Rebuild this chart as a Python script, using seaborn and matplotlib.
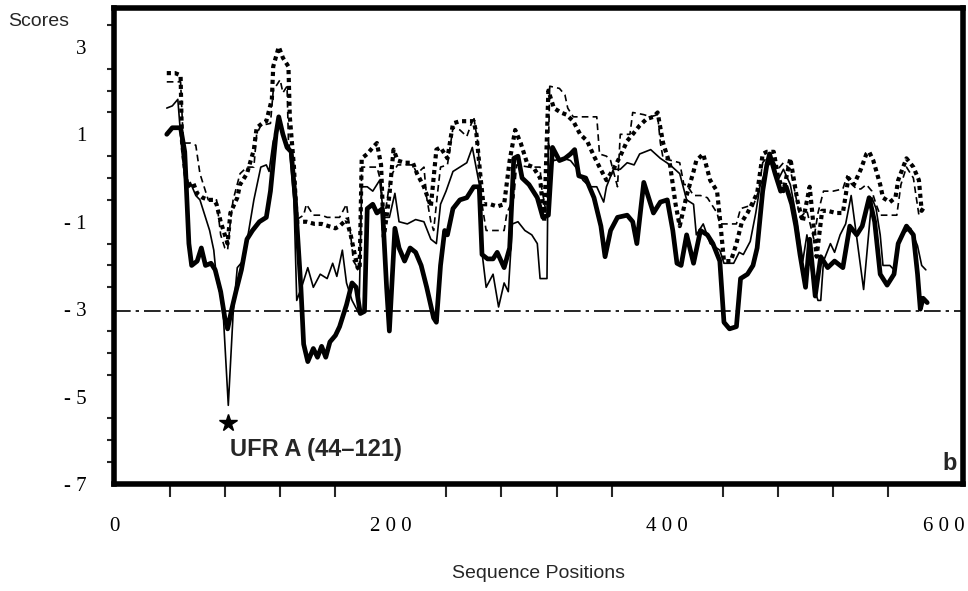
import matplotlib
matplotlib.use("Agg")
import matplotlib.pyplot as plt
import seaborn as sns
from matplotlib.ticker import MultipleLocator, FixedLocator, FixedFormatter

# thick solid profile
s1_pos = [38, 42, 48, 51, 54, 56, 60, 63, 66, 70, 73, 77, 80, 82, 85, 88, 92, 96, 100, 105,
          110, 113, 117, 119, 122, 125, 128, 131, 135, 137, 140, 144, 147, 150, 153, 156, 160,
          163, 168, 172, 175, 178, 181, 183, 187, 190, 194, 197, 199, 203, 206, 210, 214, 218,
          222, 226, 231, 233, 236, 239, 241, 245, 250, 255, 260, 264, 266, 270, 274, 277, 282,
          286, 289, 292, 295, 300, 306, 310, 314, 317, 322, 326, 330, 333, 336, 341, 347, 352,
          355, 359, 364, 371, 375, 378, 383, 387, 390, 395, 400, 404, 407, 410, 414, 419, 424,
          429, 433, 438, 441, 445, 450, 453, 458, 462, 465, 469, 472, 474, 478, 482, 486, 490,
          493, 496, 500, 503, 507, 511, 516, 521, 527, 532, 537, 541, 546, 550, 554, 559, 564,
          567, 573, 578, 581, 583, 585, 588]
s1_score = [1.0, 1.15, 1.15, 0.6, -1.5, -2.0, -1.9, -1.6, -2.0, -1.95, -2.1, -2.6, -3.2, -3.45,
            -3.0, -2.6, -2.1, -1.4, -1.2, -1.0, -0.9, -0.3, 1.0, 1.4, 1.0, 0.7, 0.6, -0.5, -2.5,
            -3.8, -4.2, -3.9, -4.1, -3.85, -4.1, -3.75, -3.6, -3.4, -2.9, -2.4, -2.5, -3.1, -3.05,
            -0.7, -0.6, -0.8, -0.7, -2.5, -3.5, -1.15, -1.6, -1.9, -1.6, -1.7, -2.0, -2.5, -3.2,
            -3.3, -2.0, -1.2, -1.3, -0.7, -0.5, -0.45, -0.2, -0.2, -1.75, -1.85, -1.85, -1.7,
            -2.05, -1.6, 0.45, 0.5, 0.0, -0.15, -0.45, -0.9, -0.85, 0.7, 0.4, 0.45, 0.55, 0.65,
            0.05, 0.0, -0.45, -1.1, -1.8, -1.2, -0.9, -0.85, -1.0, -1.5, -0.1, -0.5, -0.8, -0.55,
            -0.5, -1.2, -1.95, -2.0, -1.3, -1.95, -1.2, -1.3, -1.5, -1.9, -3.3, -3.45, -3.4, -2.3,
            -2.2, -2.0, -1.6, -0.3, 0.3, 0.55, 0.1, -0.3, -0.2, -0.6, -1.1, -1.75, -2.5, -1.4,
            -2.7, -1.8, -2.05, -1.9, -2.05, -1.1, -1.3, -1.1, -0.45, -1.0, -2.2, -2.45, -2.2,
            -1.5, -1.1, -1.3, -2.2, -3.0, -2.75, -2.85]

# thin solid profile
s2_pos = [38, 42, 46, 49, 52, 55, 59, 62, 65, 69, 72, 74, 77, 79, 82.5, 86, 89, 93, 96, 101,
          106, 110, 112, 115, 120, 124, 127, 130, 132, 136, 140, 144, 149, 154, 158, 161, 165,
          168, 172, 177, 179, 183, 187, 192, 195, 199, 203, 206, 212, 218, 224, 229, 233, 236,
          240, 245, 250, 255, 259, 262, 265, 266, 269, 274, 278, 282, 285, 288, 292, 297, 302,
          306, 308, 313, 314, 318, 325, 330, 335, 339, 344, 349, 354, 356, 361, 366, 371, 376,
          380, 388, 395, 402, 409, 414, 419, 421, 426, 431, 438, 441, 448, 452, 455, 460, 464,
          467, 472, 476, 480, 484, 489, 494, 498, 501, 506, 509, 511, 513, 518, 521, 525, 529,
          533, 538, 542, 548, 551, 554, 556, 561, 564, 569, 576, 581, 584, 587]
s2_score = [1.6, 1.65, 1.8, 0.6, -0.3, -0.1, -0.4, -0.5, -0.8, -1.2, -1.65, -2.3, -2.7, -3.2,
            -5.2, -3.1, -2.05, -1.9, -1.45, -0.5, 0.25, 0.3, 0.15, 0.85, 1.25, 0.85, 0.6, -0.5,
            -2.8, -2.45, -2.05, -2.5, -2.2, -2.3, -1.95, -2.25, -1.65, -2.4, -2.8, -3.1, -0.2,
            -0.2, -0.3, -0.05, -0.9, -0.9, -0.35, -1.0, -1.05, -0.95, -1.0, -1.4, -1.5, -0.6,
            -0.3, 0.15, 0.25, 0.35, 0.7, 0.2, -0.3, -1.7, -2.5, -2.2, -2.95, -2.4, -2.6, -1.05,
            -1.0, -1.2, -1.3, -1.5, -2.3, -2.3, 0.8, 0.4, 0.45, 0.4, 0.2, -0.05, -0.2, -0.2,
            -0.55, -0.2, 0.2, 0.2, 0.35, 0.3, 0.55, 0.65, 0.45, 0.3, 0.1, -0.5, -0.6, -1.3,
            -1.05, -1.5, -1.65, -1.95, -1.95, -1.7, -1.75, -1.45, -0.8, -0.2, 0.25, 0.4, -0.05,
            0.2, -0.15, -1.0, -1.9, -1.3, -2.5, -2.8, -2.8, -1.9, -1.5, -1.7, -1.3, -1.05, -0.4,
            -1.6, -2.55, -0.45, -0.7, -1.3, -2.0, -2.0, -2.1, -1.3, -1.15, -1.55, -2.0, -2.1]

# thick dotted profile
s3_pos = [38, 44, 48, 49, 51, 53, 57, 60, 64, 68, 72, 74, 77, 80, 82, 84, 89, 91, 96, 101,
          103, 107, 110, 114, 115, 119, 122, 126, 127, 130, 132, 139, 145, 150, 155, 160, 163,
          168, 171, 173, 176, 177.5, 179, 183, 187, 190, 193, 195, 199, 202, 205, 210, 216,
          219, 224, 229, 233, 236, 241, 245, 250, 255, 260, 262, 265, 267, 272, 277, 282, 286,
          290, 294, 299, 303, 308, 311, 314, 318, 323, 327, 332, 337, 342, 347, 351, 356, 361,
          366, 371, 375, 380, 385, 390, 393, 397, 402, 406, 409, 414, 419, 421, 426, 431, 436,
          438, 441, 446, 450, 454, 458, 465, 469, 472, 477, 480, 484, 489, 494, 498, 503, 508,
          512, 516, 522, 527, 531, 535, 540, 544, 546, 549, 554, 556, 561, 565, 567, 573, 578,
          582, 584, 586]
s3_score = [2.4, 2.4, 2.35, 0.85, 0.25, -0.2, -0.1, -0.35, -0.45, -0.5, -0.5, -0.6, -1.0, -1.3,
            -1.5, -0.8, -0.45, -0.15, 0.1, 0.65, 1.15, 1.25, 1.3, 1.8, 2.55, 3.0, 2.75, 2.55, 1.4,
            0.25, -1.0, -1.0, -1.05, -1.05, -1.1, -1.15, -1.1, -0.95, -1.3, -1.6, -2.05, -2.1,
            0.45, 0.55, 0.7, 0.8, 0.3, -1.35, -0.4, 0.65, 0.4, 0.35, 0.35, 0.1, -0.2, -0.65,
            0.65, 0.7, 0.45, 1.25, 1.3, 1.3, 1.3, 1.0, 0.0, -0.6, -0.6, -0.65, -0.6, 0.4, 1.1,
            0.8, 0.3, 0.25, 0.0, -1.0, 2.0, 1.6, 1.5, 1.45, 1.3, 1.0, 0.85, 0.5, 0.25, -0.05, 0.2,
            0.5, 0.85, 1.0, 1.2, 1.35, 1.4, 1.5, 0.8, 0.3, -0.6, -1.1, -0.4, 0.15, 0.4, 0.55,
            -0.05, -0.3, -0.9, -1.9, -1.9, -1.5, -1.0, -0.8, -0.35, 0.55, 0.6, 0.6, 0.05, -0.3,
            0.45, -0.5, -1.0, -0.2, -1.8, -0.75, -0.75, -0.8, -0.8, 0.0, -0.15, 0.2, 0.55, 0.6,
            0.4, -0.15, -0.45, -0.55, -0.45, -0.05, 0.45, 0.25, -0.05, -0.75, -0.65]

# thin dashed profile
s4_pos = [38, 44, 48, 50, 55, 59, 62, 65, 68, 74, 77, 80, 82, 84, 86, 91, 96, 101, 103, 106,
          113, 115, 120, 122, 125, 126, 129, 132, 137, 139, 144, 150, 154, 163, 168, 171, 173,
          176, 177.5, 179, 185, 190, 193, 195, 200, 205, 210, 216, 219, 224, 226, 229, 231, 234,
          236, 241, 245, 250, 255, 260, 263, 266, 269, 275, 282, 284, 289, 291, 300, 308, 309,
          313, 315, 322, 326, 328, 332, 342, 349, 351, 356, 359, 364, 366, 373, 375, 383, 388,
          393, 395, 397, 403, 409, 412, 414, 419, 424, 429, 436, 438, 446, 450, 453, 458, 462,
          466, 469, 474, 480, 484, 489, 496, 501, 506, 509, 513, 520, 527, 530, 532, 537, 540,
          544, 548, 551, 554, 560, 566, 569, 573, 578, 582, 584]
s4_score = [2.2, 2.2, 2.2, 0.8, 0.8, 0.75, 0.1, -0.2, -0.5, -0.5, -1.3, -1.6, -1.65, -1.0, -0.5,
            0.1, 0.25, 0.25, 1.0, 1.2, 1.25, 2.0, 2.25, 1.95, 2.1, 0.85, 0.25, -0.95, -0.85, -0.6,
            -0.85, -0.85, -0.9, -0.9, -0.6, -1.3, -1.9, -2.05, -2.05, 0.25, 0.25, 0.25, -0.1,
            -1.0, 0.05, 0.3, 0.3, 0.3, 0.1, 0.25, -0.45, -1.0, -1.2, -0.3, 0.25, 0.3, 1.15, 1.1,
            0.95, 1.4, 0.8, -0.6, -1.2, -1.2, -1.2, -0.8, -0.45, 0.3, 0.25, 0.25, -0.2, -0.9,
            2.1, 2.05, 1.9, 1.6, 1.4, 1.4, 1.4, 0.55, 0.5, 0.4, -0.2, 1.0, 1.0, 1.5, 1.45, 1.4,
            1.45, 0.8, 0.45, 0.4, 0.35, -0.15, -0.15, -0.4, -0.4, -0.45, -0.8, -1.05, -1.05,
            -1.05, -0.7, -0.65, -0.65, -0.3, 0.35, 0.55, 0.2, 0.35, 0.2, -0.9, -0.75, -1.4, -0.8,
            -0.3, -0.3, -0.25, 0.05, -0.1, -0.25, -0.25, -0.15, -0.3, -0.6, -0.85, -0.85, -0.85,
            -0.15, 0.25, 0.0, -0.85, -0.7]

cutoff = -3.05
star_pos, star_score = 82.5, -5.6

x_ticks = [0, 200, 400, 600]
x_labels = ["0", "2 0 0", "4 0 0", "6 0 0"]
y_ticks = [-7, -5, -3, -1, 1, 3]
y_labels = ["- 7", "- 5", "- 3", "- 1", "1", "3"]

sns.set_theme(style="white")
plt.rcParams["font.family"] = ["Liberation Sans", "DejaVu Sans"]

fig = plt.figure(figsize=(9.68, 5.91), dpi=100)
ax = fig.add_axes([0.118, 0.181, 0.877, 0.8055])

sns.lineplot(x=s3_pos, y=s3_score, ax=ax, color="black", lw=3.0,
             linestyle=(0, (1, 0.9)), sort=False, errorbar=None)
sns.lineplot(x=s4_pos, y=s4_score, ax=ax, color="black", lw=1.2,
             linestyle=(0, (4, 2.5)), sort=False, errorbar=None)
sns.lineplot(x=s2_pos, y=s2_score, ax=ax, color="black", lw=1.2,
             sort=False, errorbar=None)
sns.lineplot(x=s1_pos, y=s1_score, ax=ax, color="black", lw=3.4,
             sort=False, errorbar=None)

ax.axhline(cutoff, color="black", lw=1.2, linestyle=(0, (10, 3, 2, 3)))

ax.plot([star_pos], [star_score], marker="*", color="black", ms=13, ls="none")
ax.text(star_pos + 1.5, star_score - 0.6, "UFR A (44\u2013121)", fontsize=17,
        fontweight="bold", ha="left", va="center")
ax.text(0.992, 0.02, "b", transform=ax.transAxes, fontsize=17,
        fontweight="bold", ha="right", va="bottom")

ax.set_xlim(0, 614)
ax.set_ylim(-7, 3.89)

ax.xaxis.set_major_locator(FixedLocator(x_ticks))
ax.xaxis.set_major_formatter(FixedFormatter(x_labels))
ax.xaxis.set_minor_locator(MultipleLocator(40))
ax.yaxis.set_major_locator(FixedLocator(y_ticks))
ax.yaxis.set_major_formatter(FixedFormatter(y_labels))
ax.yaxis.set_minor_locator(MultipleLocator(0.5))

for spine in ax.spines.values():
    spine.set_visible(True)
    spine.set_color("black")
    spine.set_linewidth(4.0)

ax.tick_params(axis="both", which="major", direction="out", color="black",
               width=2.0, labelsize=15, labelcolor="black")
ax.tick_params(axis="x", which="major", length=16, pad=8)
ax.tick_params(axis="x", which="minor", length=9, width=1.5, direction="out",
               bottom=True)
ax.tick_params(axis="y", which="major", length=13, pad=7)
ax.tick_params(axis="y", which="minor", length=5, width=1.5, direction="out",
               left=True)
for lab in ax.get_xticklabels() + ax.get_yticklabels():
    lab.set_family(["Liberation Serif", "DejaVu Serif"])

ax.set_xlabel("")
ax.set_ylabel("")
fig.text(0.008, 0.963, "Scores", fontsize=14, ha="left", va="center")
fig.text(0.556, 0.03, "Sequence Positions", fontsize=14, ha="center", va="center")

fig.savefig("out.png", dpi=100, facecolor="white")
